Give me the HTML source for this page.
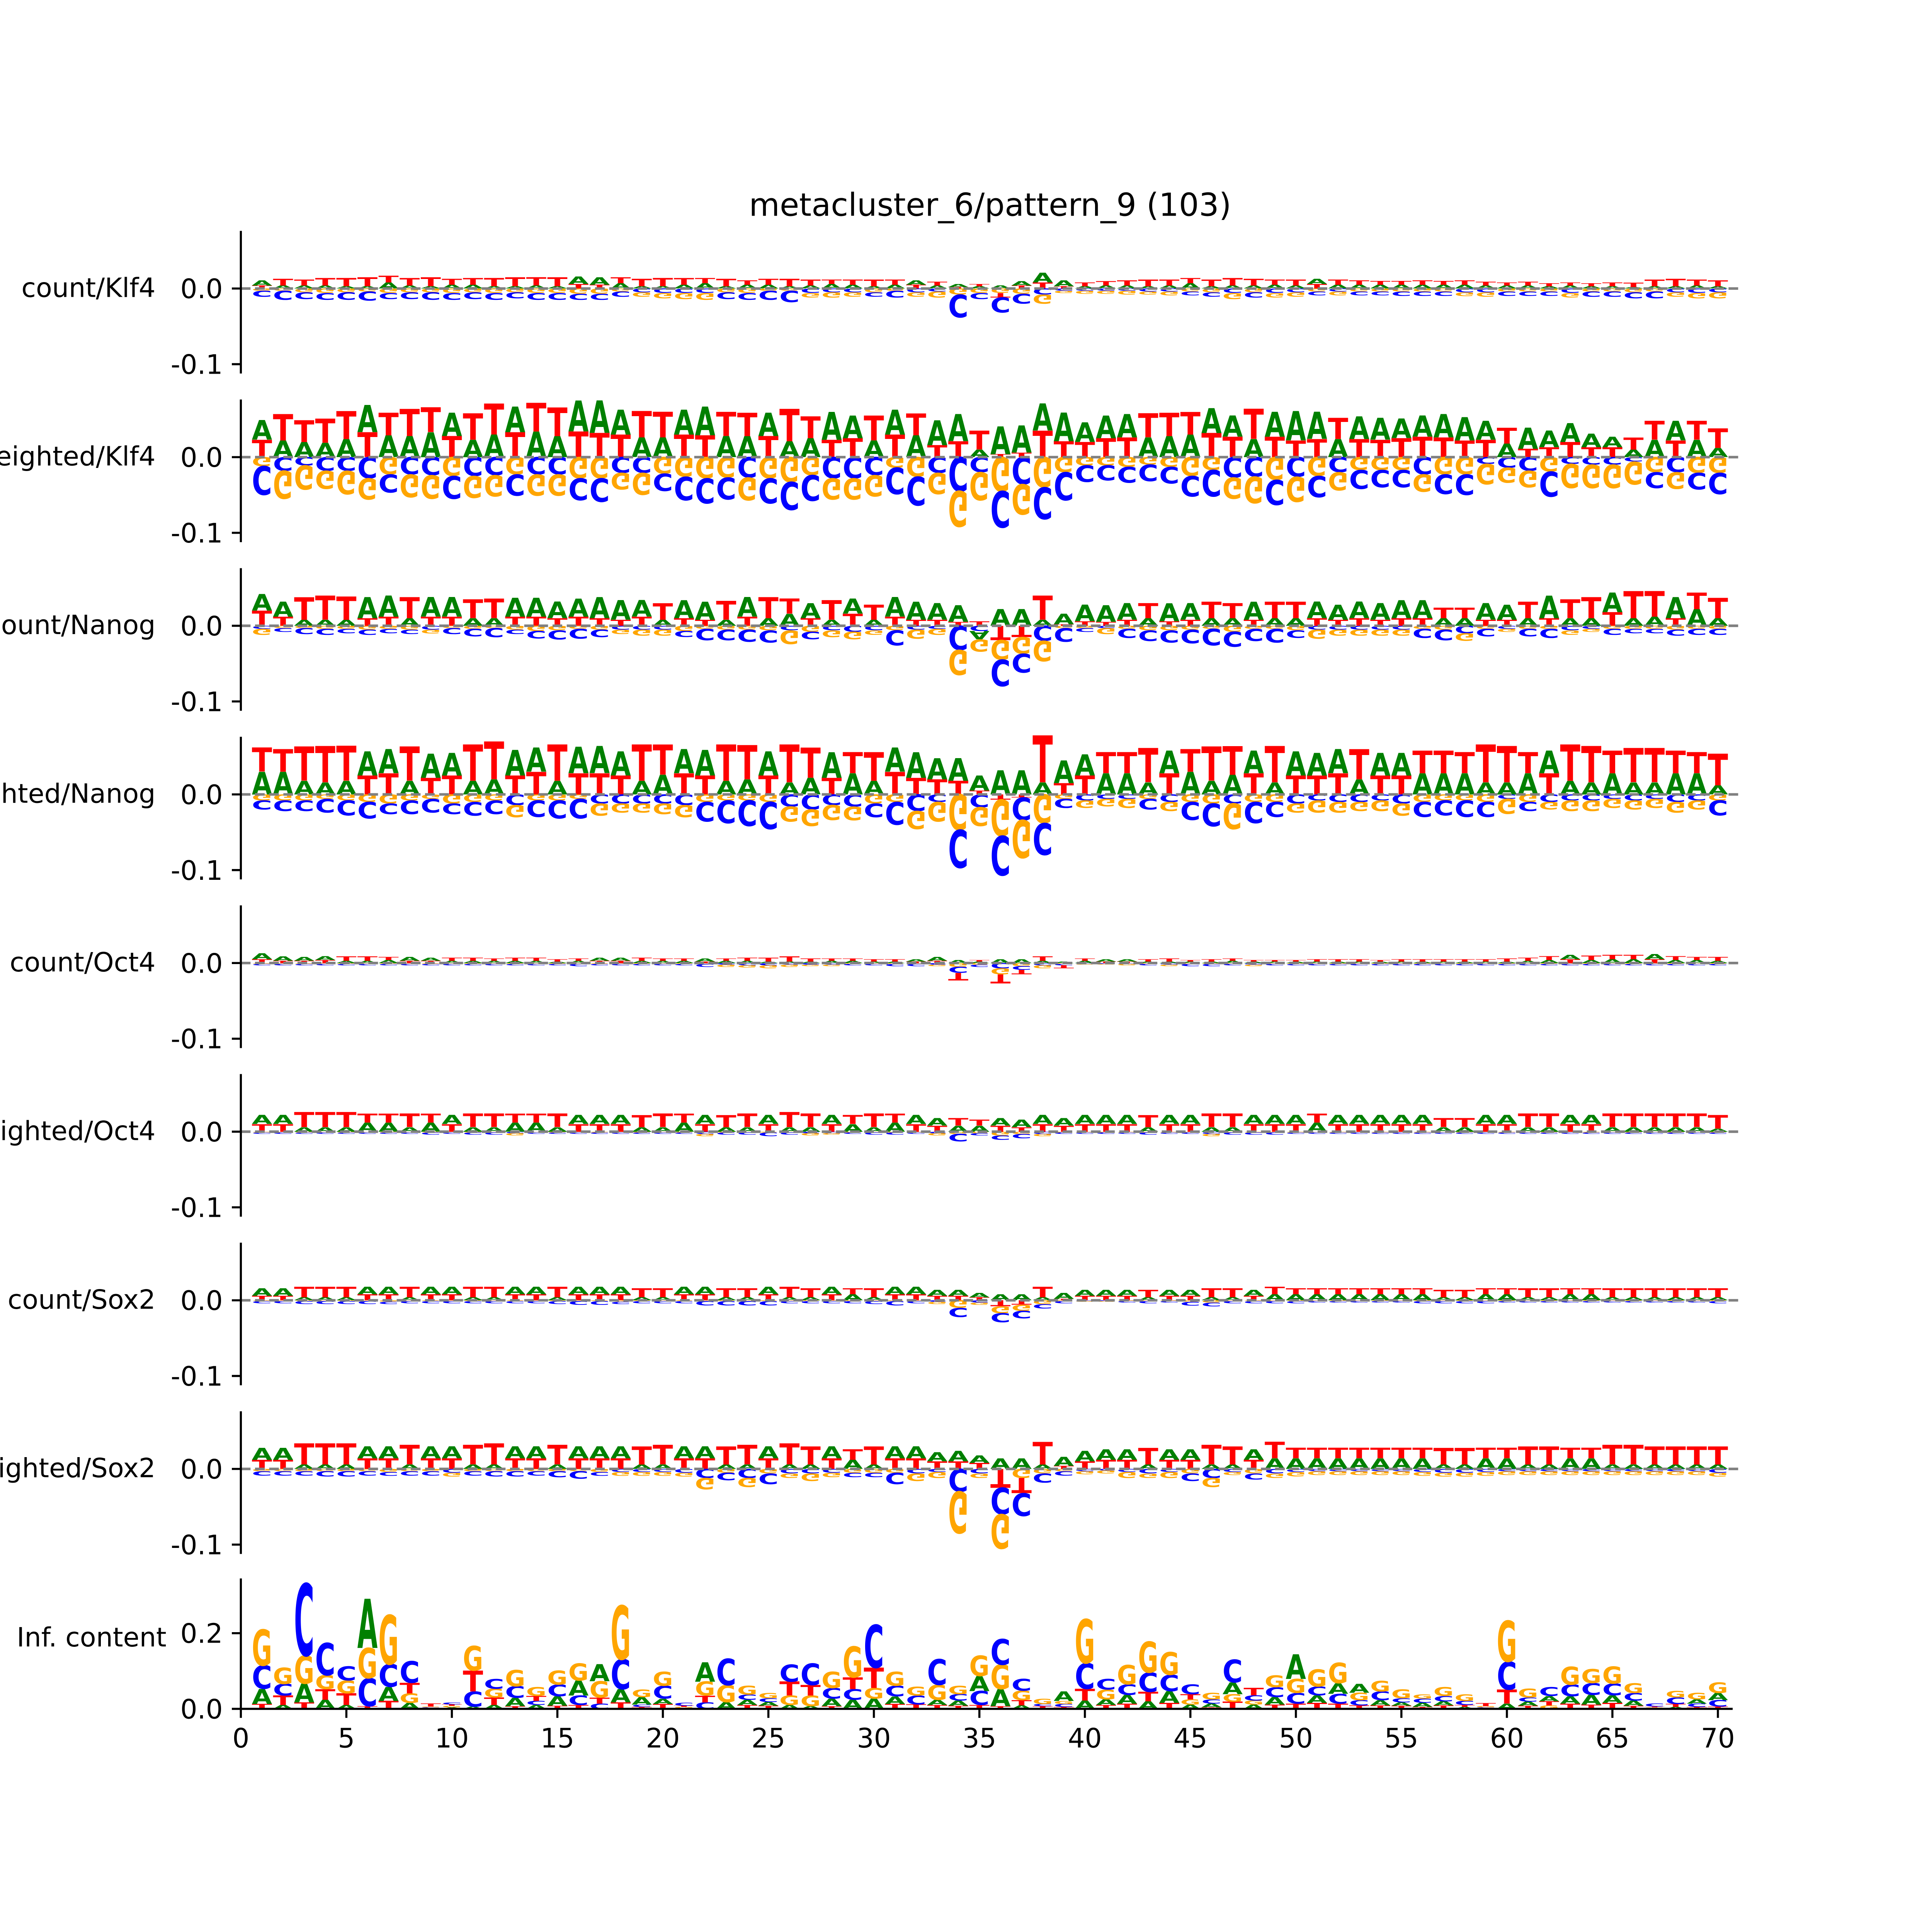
<!DOCTYPE html>
<html><head><meta charset="utf-8"><style>html,body{margin:0;padding:0;background:#fff;overflow:hidden;width:100vw;height:100vh}svg{display:block;width:100vw;height:100vh}</style></head>
<body>
<svg id="chart" xmlns="http://www.w3.org/2000/svg" viewBox="0 0 6000 6000" preserveAspectRatio="none">
<rect width="6000" height="6000" fill="#fff"/>
<text x="3075" y="670" font-family="DejaVu Sans, Liberation Sans, sans-serif" font-size="98" text-anchor="middle">metacluster_6/pattern_9 (103)</text>
<g id="plots"></g>
</svg>
<script>
// values in thousandths, positions 1..70
const klf4CountA=[7,4,4,4,3,3,8,4,3,5,5,3,3,4,3,10,10,7,3,3,5,7,3,5,5,3,4,6,5,3,5,6,4,4,3,4,6,13,8,3,4,4,3,4,7,3,4,4,5,4,7,5,5,5,5,5,5,5,4,4,4,3,4,3,3,2,3,3,4,3];
const klf4CountC=[-8,-12,-9,-9,-10,-12,-8,-9,-10,-9,-9,-9,-8,-9,-9,-8,-8,-7,-5,-6,-6,-6,-9,-9,-12,-15,-6,-5,-5,-6,-9,-5,-4,-30,-8,-20,-13,-8,-3,-3,-3,-3,-4,-4,-5,-6,-6,-7,-6,-5,-5,-4,-5,-5,-6,-6,-6,-5,-5,-6,-6,-6,-6,-7,-7,-8,-9,-5,-6,-5];
const klf4CountG=[-3,-3,-5,-6,-5,-4,-6,-5,-5,-6,-5,-6,-5,-6,-6,-7,-7,-4,-6,-7,-8,-9,-5,-6,-3,-3,-6,-7,-6,-5,-3,-6,-8,-8,-6,-6,-7,-12,-3,-4,-4,-5,-4,-5,-4,-5,-8,-5,-6,-6,-4,-5,-4,-4,-4,-4,-4,-5,-6,-4,-4,-4,-6,-4,-4,-5,-4,-6,-7,-8];
const klf4CountT=[4,9,8,10,11,12,9,10,12,8,9,11,12,11,12,6,5,8,10,11,9,7,10,6,8,10,8,6,7,9,7,5,5,2,3,-6,4,8,3,5,6,7,9,8,7,9,10,9,7,8,6,7,6,5,5,6,5,6,5,4,5,4,4,4,5,6,9,10,8,8];

const klf4WeightedA=[26,22,20,19,24,36,29,28,33,31,23,30,34,34,28,41,43,33,26,26,33,38,28,28,31,21,25,37,30,22,33,29,33,36,10,37,36,36,38,26,30,31,26,28,30,33,28,24,33,39,36,24,30,29,26,28,31,31,25,18,28,22,25,18,14,10,23,26,23,12];
const klf4WeightedC=[-38,-18,-11,-18,-18,-28,-24,-23,-24,-30,-25,-24,-28,-23,-23,-29,-31,-21,-21,-23,-31,-33,-29,-27,-33,-37,-34,-28,-28,-24,-35,-38,-21,-45,-20,-48,-36,-42,-37,-22,-20,-21,-22,-22,-27,-35,-27,-26,-33,-26,-28,-20,-25,-23,-23,-23,-26,-27,-9,-14,-18,-33,-9,-10,-10,-6,-21,-20,-22,-28];
const klf4WeightedG=[-12,-37,-32,-24,-31,-28,-23,-30,-31,-25,-29,-28,-23,-28,-28,-28,-28,-22,-29,-22,-26,-28,-27,-30,-28,-33,-24,-28,-28,-28,-14,-26,-28,-47,-37,-45,-40,-40,-20,-11,-11,-13,-10,-13,-25,-17,-28,-35,-30,-33,-25,-24,-17,-17,-17,-23,-23,-23,-27,-20,-22,-19,-32,-31,-31,-30,-20,-22,-21,-21];
const klf4WeightedT=[23,35,29,32,37,33,30,36,33,28,35,41,33,38,38,34,32,30,35,34,30,29,32,31,28,43,29,23,25,33,30,29,16,21,25,4,6,35,21,20,25,26,32,31,30,32,27,40,27,22,24,28,24,23,25,27,26,22,23,21,11,13,20,13,13,16,25,22,25,26];

const nanogCountA=[22,20,8,8,8,28,28,10,26,26,10,10,25,25,22,24,28,26,22,8,24,24,8,26,10,16,20,8,20,8,26,24,22,22,-11,22,22,8,14,22,22,22,10,24,22,10,10,24,10,10,22,20,22,22,24,24,10,10,22,20,10,30,10,10,26,10,12,28,22,10];
const nanogCountC=[-4,-5,-8,-8,-6,-7,-6,-6,-5,-8,-10,-12,-6,-10,-12,-13,-10,-5,-5,-5,-8,-15,-14,-16,-16,-6,-10,-6,-8,-6,-20,-5,-4,-32,-7,-35,-25,-20,-18,-5,-3,-12,-14,-16,-18,-22,-20,-16,-18,-10,-5,-5,-5,-5,-5,-12,-14,-10,-10,-4,-10,-12,-6,-4,-8,-6,-6,-8,-8,-8];
const nanogCountG=[-8,-3,-3,-4,-4,-5,-4,-5,-5,-3,-4,-3,-5,-7,-6,-4,-5,-6,-8,-8,-7,-4,-5,-5,-6,-18,-8,-9,-10,-6,-6,-12,-8,-33,-16,-26,-22,-27,-3,-3,-8,-4,-6,-6,-5,-4,-8,-4,-4,-6,-12,-8,-8,-8,-8,-4,-5,-10,-4,-4,-4,-4,-6,-4,-4,-4,-4,-5,-4,-4];
const nanogCountT=[20,12,30,32,31,10,12,28,12,12,25,26,12,12,10,12,10,8,12,22,10,8,25,12,28,20,10,26,16,20,12,8,8,5,6,-19,-15,32,2,6,5,8,20,6,8,22,20,8,22,22,10,8,10,8,10,10,14,14,8,8,22,10,25,28,18,36,34,10,22,27];

const nanogWeightedA=[30,30,18,16,18,32,32,18,32,30,18,20,34,32,18,35,36,32,18,26,32,34,18,20,32,16,22,34,28,18,32,34,28,30,20,32,32,16,30,28,28,28,16,30,30,18,26,30,16,32,30,32,20,30,30,28,28,28,16,16,28,30,18,16,28,16,16,28,28,12];
const nanogWeightedC=[-12,-14,-14,-18,-20,-22,-14,-18,-18,-14,-18,-18,-14,-22,-24,-26,-12,-12,-12,-12,-14,-26,-30,-34,-36,-16,-20,-14,-16,-18,-30,-22,-10,-50,-17,-52,-30,-42,-12,-8,-6,-6,-14,-10,-24,-30,-12,-28,-20,-12,-8,-10,-10,-8,-12,-20,-20,-22,-20,-6,-12,-10,-8,-8,-6,-8,-6,-10,-8,-20];
const nanogWeightedG=[-8,-8,-8,-6,-8,-10,-12,-8,-6,-12,-10,-8,-16,-8,-8,-6,-16,-12,-12,-14,-16,-10,-8,-8,-10,-20,-22,-20,-18,-12,-10,-24,-26,-47,-25,-48,-50,-38,-6,-10,-10,-12,-6,-12,-10,-12,-34,-10,-10,-12,-16,-14,-12,-14,-16,-10,-8,-8,-10,-20,-10,-10,-14,-14,-12,-12,-12,-14,-12,-8];
const nanogWeightedT=[32,30,45,48,46,25,28,45,22,25,48,50,25,30,48,28,28,25,48,40,28,25,48,45,25,50,40,22,28,38,30,22,20,18,5,-7,-4,62,15,25,28,28,45,28,30,45,38,28,48,25,25,28,40,25,25,30,30,28,50,48,28,28,48,48,30,45,45,30,28,42];

const oct4CountA=[8,6,5,5,3,3,4,5,4,3,3,3,3,3,2,3,4,4,3,3,3,4,3,3,2,2,2,3,3,2,2,3,5,4,2,5,5,3,2,3,3,3,2,2,2,2,3,2,2,2,2,2,2,2,2,2,2,2,2,2,3,4,6,4,5,5,7,4,4,3];
const oct4CountC=[-2,-2,-2,-2,-2,-2,-2,-2,-2,-2,-2,-2,-2,-2,-2,-3,-2,-2,-2,-2,-2,-4,-2,-3,-3,-2,-2,-2,-2,-2,-3,-3,-2,-8,-3,-7,-5,-3,-2,-1,-1,-1,-2,-2,-3,-3,-2,-2,-2,-2,-2,-2,-2,-2,-2,-2,-2,-2,-2,-2,-2,-2,-2,-2,-2,-2,-2,-2,-2,-2];
const oct4CountG=[-1,-1,-1,-1,-1,-1,-1,-1,-1,-1,-1,-1,-1,-1,-1,-1,-1,-1,-1,-1,-1,-1,-3,-3,-4,-3,-2,-2,-1,-1,-1,-1,-2,-5,-2,-8,-4,-4,-1,-1,-1,-2,-1,-2,-1,-1,-1,-2,-1,-1,-1,-1,-1,-1,-1,-1,-1,-1,-1,-1,-1,-1,-1,-1,-1,-1,-1,-1,-1,-1];
const oct4CountT=[5,3,3,4,6,6,4,3,3,4,4,3,4,4,3,3,3,3,4,3,3,2,3,4,5,7,4,3,3,3,3,2,3,-10,2,-12,-6,6,-4,3,2,2,3,4,2,3,3,2,2,2,3,3,3,2,3,3,3,3,3,4,4,5,5,6,6,6,5,5,4,5];

const oct4WeightedA=[12,12,6,6,6,12,12,6,12,12,6,6,12,12,6,12,12,12,6,6,12,12,6,6,12,6,6,12,10,6,12,12,10,8,8,10,10,12,10,12,12,12,6,12,12,6,6,12,12,12,12,12,12,12,12,12,6,6,12,12,6,6,12,12,6,6,6,6,6,4];
const oct4WeightedC=[-2,-2,-2,-2,-2,-2,-2,-2,-3,-2,-3,-3,-2,-2,-2,-2,-2,-2,-2,-2,-2,-3,-3,-3,-5,-3,-2,-2,-2,-3,-3,-2,-2,-10,-3,-6,-6,-3,-2,-2,-2,-2,-3,-2,-2,-3,-3,-3,-3,-2,-2,-2,-2,-2,-2,-2,-2,-2,-2,-2,-2,-2,-2,-2,-2,-2,-2,-2,-2,-2];
const oct4WeightedG=[-1,-1,-1,-1,-1,-1,-1,-1,-1,-1,-1,-1,-3,-1,-1,-1,-1,-1,-1,-1,-1,-3,-1,-1,-1,-1,-3,-2,-1,-1,-1,-1,-3,-3,-2,-5,-3,-3,-1,-1,-1,-1,-1,-1,-1,-3,-1,-1,-1,-1,-1,-1,-1,-1,-1,-1,-1,-1,-1,-1,-1,-1,-1,-1,-1,-1,-1,-1,-1,-1];
const oct4WeightedT=[10,10,20,20,20,12,12,18,12,10,18,18,12,12,18,10,10,10,16,18,12,10,16,18,10,20,18,10,12,18,12,10,8,10,8,8,6,10,8,10,10,10,16,10,10,18,18,10,10,10,12,10,10,10,10,10,12,12,10,10,18,18,10,10,18,18,18,18,18,18];

const sox2CountA=[10,10,4,4,4,10,10,4,10,10,4,4,10,10,4,10,10,10,4,4,10,10,4,4,10,4,4,10,8,4,10,10,8,8,6,8,8,4,8,8,8,8,4,8,8,4,4,8,8,8,8,8,8,8,8,8,4,4,8,8,4,4,8,8,4,4,4,4,4,4];
const sox2CountC=[-3,-3,-4,-4,-4,-4,-3,-3,-3,-3,-3,-3,-3,-3,-4,-5,-5,-3,-3,-3,-3,-6,-6,-6,-6,-3,-3,-3,-3,-4,-6,-3,-2,-12,-3,-12,-10,-6,-3,-1,-1,-2,-3,-2,-5,-5,-3,-3,-3,-3,-2,-2,-2,-2,-2,-3,-3,-3,-3,-2,-2,-2,-2,-2,-2,-2,-2,-2,-2,-3];
const sox2CountG=[-1,-1,-1,-1,-1,-1,-2,-1,-1,-1,-1,-1,-1,-1,-1,-1,-1,-2,-1,-1,-1,-1,-1,-1,-1,-1,-1,-1,-1,-1,-1,-1,-3,-10,-3,-9,-8,-5,-1,-1,-1,-1,-1,-1,-2,-3,-1,-1,-1,-1,-1,-1,-1,-1,-1,-1,-1,-1,-1,-1,-1,-1,-1,-1,-1,-1,-1,-1,-1,-1];
const sox2CountT=[6,6,14,14,14,8,8,14,8,8,14,14,8,8,14,8,8,8,12,12,8,8,12,12,8,14,12,8,8,12,8,8,6,6,4,-8,-6,14,2,6,6,6,10,6,6,12,12,6,10,8,8,8,8,8,8,8,10,10,8,8,12,12,8,8,12,12,12,12,12,12];

const sox2WeightedA=[16,16,6,6,6,16,16,6,16,16,6,6,16,16,6,16,16,16,6,6,16,16,6,6,16,6,6,16,12,6,16,16,12,14,10,14,14,6,12,14,14,14,6,14,14,6,6,14,14,14,14,14,14,14,14,14,6,6,14,14,6,6,14,14,6,6,6,6,6,6];
const sox2WeightedC=[-6,-6,-6,-7,-7,-6,-5,-6,-6,-5,-6,-7,-7,-6,-8,-10,-5,-4,-4,-4,-5,-12,-10,-12,-14,-6,-6,-5,-6,-6,-15,-6,-4,-30,-6,-35,-30,-12,-6,-3,-2,-4,-6,-4,-10,-12,-4,-8,-6,-4,-3,-3,-3,-3,-3,-4,-5,-5,-4,-3,-3,-3,-3,-3,-3,-3,-3,-3,-3,-5];
const sox2WeightedG=[-3,-3,-3,-3,-3,-3,-4,-3,-3,-5,-3,-3,-3,-3,-3,-3,-4,-5,-5,-5,-5,-15,-5,-12,-6,-6,-10,-6,-5,-5,-5,-10,-8,-55,-6,-45,-12,-6,-3,-4,-4,-8,-6,-8,-6,-12,-4,-6,-6,-6,-5,-5,-5,-5,-5,-5,-5,-5,-5,-5,-5,-5,-5,-5,-5,-5,-5,-5,-5,-5];
const sox2WeightedT=[12,12,28,28,28,14,14,26,14,14,26,28,14,14,26,14,14,14,24,26,14,14,24,26,14,28,24,14,14,24,14,14,10,10,8,-25,-20,30,4,10,12,12,22,12,12,26,24,12,22,14,14,14,14,14,14,14,22,22,14,14,24,24,14,14,26,26,24,24,24,24];

const infoA=[40,10,50,24,10,130,37,16,2,4,6,10,22,10,25,40,45,35,20,14,2,51,18,14,10,10,7,20,24,27,20,2,14,14,40,45,9,2,25,22,15,23,20,31,11,10,31,11,20,65,20,28,23,14,9,11,11,5,2,14,11,14,19,26,20,14,2,5,11,19];
const infoC=[62,31,190,85,37,74,60,57,2,5,40,26,31,11,31,25,14,79,6,34,8,17,70,14,10,45,57,28,28,113,28,23,68,17,37,68,31,6,8,68,28,28,51,43,26,11,60,14,26,28,23,26,14,23,11,11,14,11,2,74,11,23,31,31,31,20,8,17,9,17];
const infoG=[95,43,74,37,34,80,130,25,2,4,65,23,43,23,37,45,43,142,20,37,3,37,45,23,14,25,28,43,82,28,37,23,40,22,54,65,25,14,8,116,26,51,82,60,14,17,20,11,31,37,45,54,20,28,23,11,23,17,3,108,23,9,48,37,45,26,2,17,17,28];
const infoT=[13,25,17,28,31,7,21,28,8,4,55,20,7,13,8,10,16,17,5,13,3,18,0,10,8,37,28,7,31,54,13,10,10,8,10,7,14,5,5,31,10,14,25,16,14,4,19,20,11,14,16,14,9,9,8,5,9,5,8,37,8,11,14,11,16,8,2,8,5,6];

const xTickLabels=["0","5","10","15","20","25","30","35","40","45","50","55","60","65","70"];
const yTickLabels=["0.0","-0.1"];
const infoTickLabels=["0.0","0.2"];
const panelLabels=["count/Klf4","weighted/Klf4","count/Nanog","weighted/Nanog","count/Oct4","weighted/Oct4","count/Sox2","weighted/Sox2"];

const NS="http://www.w3.org/2000/svg";
const FONT="DejaVu Sans, Liberation Sans, sans-serif";
const COLORS={A:"#008000",C:"#0000ff",G:"#ffa500",T:"#ff0000"};
const X0=748, XU=65.53;
function xScale(p){return X0+p*XU;}
const panels=[
 [klf4CountA,klf4CountC,klf4CountG,klf4CountT],
 [klf4WeightedA,klf4WeightedC,klf4WeightedG,klf4WeightedT],
 [nanogCountA,nanogCountC,nanogCountG,nanogCountT],
 [nanogWeightedA,nanogWeightedC,nanogWeightedG,nanogWeightedT],
 [oct4CountA,oct4CountC,oct4CountG,oct4CountT],
 [oct4WeightedA,oct4WeightedC,oct4WeightedG,oct4WeightedT],
 [sox2CountA,sox2CountC,sox2CountG,sox2CountT],
 [sox2WeightedA,sox2WeightedC,sox2WeightedG,sox2WeightedT]
];
const root=document.getElementById('plots');
function mk(tag,attrs,parent){const e=document.createElementNS(NS,tag);for(const k in attrs)e.setAttribute(k,attrs[k]);(parent||root).appendChild(e);return e;}

function drawLetter(g,L,pos,yStart,h,neg){
  if(h<0.5)return;
  const w=XU*0.96;
  const xl=xScale(pos)-w/2;
  const t=mk('text',{x:0,y:0,'font-family':"DejaVu Sans, sans-serif",'font-weight':'bold','font-size':100,fill:COLORS[L],textLength:70,lengthAdjust:'spacingAndGlyphs'},g);
  
  
  t.textContent=L;
  const sx=w/70, sy=h/72.9;
  if(neg) t.setAttribute('transform','translate('+xl+','+yStart+') scale('+sx+','+(-sy)+')');
  else t.setAttribute('transform','translate('+xl+','+yStart+') scale('+sx+','+sy+')');
}
function drawLogo(g,arrs,base,pxPerUnit){
  const letters=['A','C','G','T'];
  for(let i=0;i<70;i++){
    const pos=[],neg=[];
    letters.forEach((L,k)=>{const v=(arrs[k][i]||0)/1000; if(v>0)pos.push([L,v]); else if(v<0)neg.push([L,-v]);});
    pos.sort((a,b)=>a[1]-b[1]); neg.sort((a,b)=>a[1]-b[1]);
    let y=base;
    pos.forEach(([L,v])=>{const h=v*pxPerUnit; drawLetter(g,L,i+1,y,h,false); y-=h;});
    y=base;
    neg.forEach(([L,v])=>{const h=v*pxPerUnit; drawLetter(g,L,i+1,y,h,true); y+=h;});
  }
}
function yAxis(g,top,bottom,ticks,labels){
  const ax=mk('line',{x1:X0,x2:X0,y1:top,y2:bottom,stroke:'#000','stroke-width':6.5},g);
  
  
  ticks.forEach((ty,j)=>{
    const tk=mk('line',{x1:X0-28,x2:X0,y1:ty,y2:ty,stroke:'#000','stroke-width':6.5},g);
    
    
    const tl=mk('text',{x:X0-56,y:ty+30,'font-family':FONT,'font-size':83,'text-anchor':'end'},g);
    
    
    tl.textContent=labels[j];
  });
}
const PX=2350; // px per 1.0 unit
panels.forEach((arrs,k)=>{
  const base=896+k*523.7;
  const g=mk('g',{});
  
  
  drawLogo(g,arrs,base,PX);
  const dl=mk('line',{x1:X0,x2:5400,y1:base,y2:base,stroke:'#808080','stroke-width':8,'stroke-dasharray':'30 14'},g);
  
  
  yAxis(g,base-179,base+264,[base,base+0.1*PX],yTickLabels);
  const lab=mk('text',{x:483,y:base+26,'font-family':FONT,'font-size':82,'text-anchor':'end'},g);
  
  
  lab.textContent=panelLabels[k];
});
(function(){
  const base=5307, px=1175;
  const g=mk('g',{});
  
  
  drawLogo(g,[infoA,infoC,infoG,infoT],base,px);
  yAxis(g,4902,base,[base,base-0.2*px],infoTickLabels);
  const bx=mk('line',{x1:X0-3,x2:5381,y1:base,y2:base,stroke:'#000','stroke-width':6.5},g);
  
  
  xTickLabels.forEach((lb,j)=>{
    const x=xScale(j*5);
    const tk=mk('line',{x1:x,x2:x,y1:base,y2:base+28,stroke:'#000','stroke-width':6.5},g);
    
    
    const tl=mk('text',{x:x,y:base+120,'font-family':FONT,'font-size':83,'text-anchor':'middle'},g);
    
    
    tl.textContent=lb;
  });
  const lab=mk('text',{x:517,y:5113,'font-family':FONT,'font-size':82,'text-anchor':'end'},g);
  
  
  lab.textContent="Inf. content";
})();
</script>
</body></html>
